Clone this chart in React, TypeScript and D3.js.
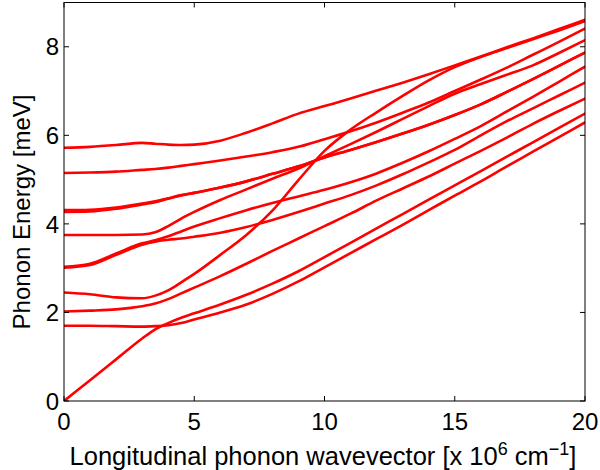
import React from "react";
import * as d3 from "d3";

// Wavevector grid (x 10^6 cm^-1)
const qGrid = [0, 1, 2, 3, 3.5, 4, 4.5, 5, 6, 7, 8, 9, 10, 11, 12, 13, 14, 15, 16, 17, 18, 19, 20];

// Phonon energies (meV) for each branch on qGrid
const branchAcoustic = [0, 0.47, 0.94, 1.41, 1.62, 1.76, 1.88, 1.98, 2.18, 2.4, 2.65, 2.93, 3.25, 3.57, 3.9, 4.22, 4.55, 4.87, 5.19, 5.52, 5.84, 6.17, 6.49];
const branch170 = [1.7, 1.7, 1.69, 1.68, 1.69, 1.71, 1.76, 1.84, 2.0, 2.18, 2.42, 2.7, 3.02, 3.34, 3.66, 3.98, 4.31, 4.64, 4.96, 5.3, 5.63, 5.96, 6.29];
const branch202 = [2.02, 2.04, 2.07, 2.14, 2.2, 2.3, 2.43, 2.56, 2.82, 3.1, 3.39, 3.67, 3.95, 4.23, 4.53, 4.8, 5.07, 5.36, 5.65, 5.95, 6.26, 6.55, 6.83];
const branch245 = [2.45, 2.41, 2.34, 2.32, 2.38, 2.5, 2.68, 2.87, 3.3, 3.75, 4.3, 4.99, 5.65, 6.13, 6.52, 6.89, 7.24, 7.54, 7.77, 7.97, 8.17, 8.37, 8.58];
const branch303a = [3.03, 3.1, 3.33, 3.56, 3.63, 3.72, 3.83, 3.94, 4.13, 4.31, 4.47, 4.62, 4.77, 4.94, 5.14, 5.38, 5.64, 5.92, 6.21, 6.54, 6.87, 7.21, 7.55];
const branch303b = [3.01, 3.07, 3.3, 3.53, 3.6, 3.64, 3.67, 3.71, 3.8, 3.93, 4.09, 4.27, 4.46, 4.65, 4.87, 5.12, 5.39, 5.67, 6.0, 6.32, 6.61, 6.9, 7.19];
const branch375 = [3.75, 3.75, 3.75, 3.76, 3.81, 3.95, 4.12, 4.27, 4.54, 4.78, 5.02, 5.25, 5.53, 5.8, 6.08, 6.37, 6.66, 6.94, 7.16, 7.37, 7.58, 7.86, 8.15];
const branch431a = [4.31, 4.32, 4.37, 4.46, 4.51, 4.58, 4.65, 4.7, 4.82, 4.96, 5.13, 5.3, 5.5, 5.67, 5.85, 6.04, 6.24, 6.46, 6.7, 6.98, 7.27, 7.57, 7.87];
const branch431b = [4.27, 4.28, 4.34, 4.44, 4.49, 4.57, 4.64, 4.7, 4.82, 4.96, 5.13, 5.3, 5.5, 5.67, 5.85, 6.04, 6.24, 6.46, 6.7, 6.98, 7.27, 7.57, 7.87];
const branch515 = [5.15, 5.16, 5.18, 5.22, 5.24, 5.27, 5.31, 5.35, 5.43, 5.52, 5.62, 5.74, 5.91, 6.09, 6.29, 6.51, 6.74, 7.0, 7.26, 7.53, 7.82, 8.11, 8.41];
const branch572 = [5.72, 5.74, 5.78, 5.83, 5.81, 5.79, 5.78, 5.79, 5.88, 6.06, 6.27, 6.49, 6.66, 6.83, 7.01, 7.19, 7.38, 7.58, 7.78, 7.99, 8.19, 8.4, 8.61];

const branches = [
  branchAcoustic, branch170, branch202, branch245, branch303a, branch303b,
  branch375, branch431a, branch431b, branch515, branch572,
];

const xTicks = [0, 5, 10, 15, 20];
const yTicks = [0, 2, 4, 6, 8];

const W = 600;
const H = 470;
const left = 64;
const right = 585;
const top = 2.5;
const bottom = 401;
const FONT = "'Liberation Sans', Arial, Helvetica, sans-serif";

export default function App() {
  const x = d3.scaleLinear().domain([0, 20]).range([left, right]);
  const y = d3.scaleLinear().domain([0, 9]).range([bottom, top]);
  const line = d3
    .line<number>()
    .x((_, i) => x(qGrid[i]))
    .y((d) => y(d))
    .curve(d3.curveMonotoneX);
  const tl = 5;

  return (
    <svg
      width={W}
      height={H}
      style={{ position: "absolute", left: 0, top: 0, background: "#fff" }}
      fontFamily={FONT}
    >
      <defs>
        <clipPath id="plotArea">
          <rect x={left} y={top} width={right - left} height={bottom - top} />
        </clipPath>
      </defs>
      <rect x={0} y={0} width={W} height={H} fill="#fff" />
      <g clipPath="url(#plotArea)">
        {branches.map((b, i) => (
          <path
            key={i}
            d={line(b) || ""}
            fill="none"
            stroke="#ff0000"
            strokeWidth={2.6}
            strokeLinejoin="round"
            strokeLinecap="round"
          />
        ))}
      </g>
      {/* ticks */}
      {xTicks.map((t) => (
        <g key={"xt" + t}>
          <line x1={x(t)} x2={x(t)} y1={bottom} y2={bottom - tl} stroke="#000" strokeWidth={1} />
          <line x1={x(t)} x2={x(t)} y1={top} y2={top + tl} stroke="#000" strokeWidth={1} />
          <text x={x(t)} y={430} fontSize={24} textAnchor="middle" fill="#000">
            {t}
          </text>
        </g>
      ))}
      {yTicks.map((t) => (
        <g key={"yt" + t}>
          <line x1={left} x2={left + tl} y1={y(t)} y2={y(t)} stroke="#000" strokeWidth={1} />
          <line x1={right} x2={right - tl} y1={y(t)} y2={y(t)} stroke="#000" strokeWidth={1} />
          <text x={59} y={y(t)} dy="0.36em" fontSize={24} textAnchor="end" fill="#000">
            {t}
          </text>
        </g>
      ))}
      <rect
        x={left}
        y={top}
        width={right - left}
        height={bottom - top}
        fill="none"
        stroke="#000"
        strokeWidth={1}
      />
      <text x={323} y={465} fontSize={25.5} textAnchor="middle" fill="#000">
        Longitudinal phonon wavevector [x 10
        <tspan dy={-10} fontSize={18}>6</tspan>
        <tspan dy={10}> cm</tspan>
        <tspan dy={-10} fontSize={18}>{"\u22121"}</tspan>
        <tspan dy={10}>]</tspan>
      </text>
      <text
        transform="translate(30,212) rotate(-90)"
        fontSize={24}
        textAnchor="middle"
        fill="#000"
      >
        Phonon Energy [meV]
      </text>
    </svg>
  );
}
